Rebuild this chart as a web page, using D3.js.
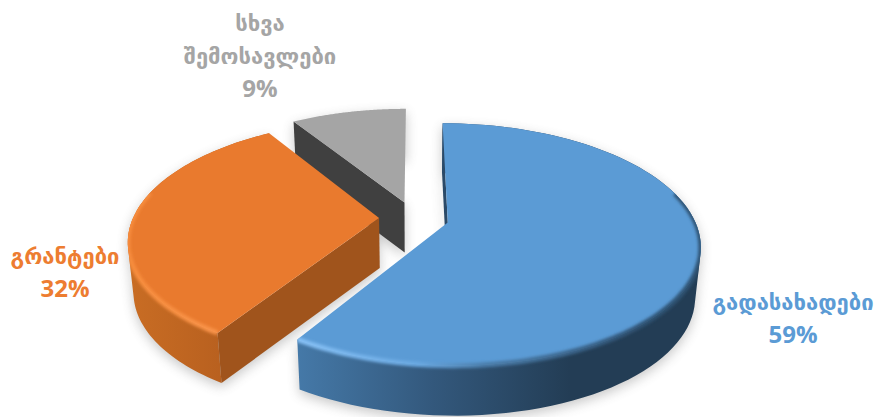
<!DOCTYPE html>
<html lang="ka">
<head>
<meta charset="UTF-8" />
<title>შემოსავლები</title>
<style>
  html, body { margin: 0; padding: 0; background: #fff; overflow: hidden; }
  text { font-family: "DejaVu Sans", sans-serif; text-anchor: middle; }
  .pct { font-family: "Open Sans", sans-serif; font-weight: 700; font-size: 24px; }
  .name { font-size: 22px; font-weight: 700; }
</style>
</head>
<body>
<svg id="chart" width="877" height="417"></svg>
<script src="https://cdn.jsdelivr.net/npm/d3@7"></script>
<script>
// data
var categories = ["გადასახადები", "გრანტები", "სხვა შემოსავლები"];
var values = [59, 32, 9];

// colours per slice, same order as the data
var faceColors = ["#5b9bd5", "#e97a2e", "#a5a5a5"];
var cutColors = ["#2b4a68", "#a0541c", "#404040"];
var labelColors = ["#5b9bd5", "#ed7d31", "#a5a5a5"];

// the tilted plate: perspective circle seen from above
var cx = 414, cy = 218;
var radiusX = 246, radiusY = 115.6, persp = 0.179, depth = 50, explode = 0.142;
var lowerShrink = 0.98; // verticals lean inward going down

// label places
var labelX = [793, 65, 260];
var labelY = [310, 264, 31];
var lineGap = 33;

var svg = d3.select("#chart");
var defs = svg.append("defs");

var blur = defs.append("filter").attr("id", "shadowBlur")
  .attr("x", "-20%").attr("y", "-20%").attr("width", "140%").attr("height", "140%");
blur.append("feGaussianBlur").attr("stdDeviation", 6);
var soft = defs.append("filter").attr("id", "rimBlur")
  .attr("x", "-10%").attr("y", "-10%").attr("width", "120%").attr("height", "120%");
soft.append("feGaussianBlur").attr("stdDeviation", 1.8);

function linear(id, x1, x2, stops) {
  var g = defs.append("linearGradient").attr("id", id)
    .attr("gradientUnits", "userSpaceOnUse")
    .attr("x1", x1).attr("x2", x2).attr("y1", 0).attr("y2", 0);
  stops.forEach(function(s) {
    g.append("stop").attr("offset", s[0]).attr("stop-color", s[1]);
  });
  return "url(#" + id + ")";
}

var wallFill = [
  linear("wallBlue", 297, 570, [[0, "#4579a8"], [0.5, "#33587c"], [1, "#233d55"]]),
  linear("wallOrange", 126, 225, [[0, "#c96d24"], [1, "#b8601f"]])
];
var rimStroke = [
  linear("rimBlue", 297, 640, [[0, "#86c0f5"], [0.35, "#6aa9e2"], [0.55, "#4a7ca9"], [1, "#2f5273"]]),
  linear("rimOrange", 126, 225, [[0, "#f78c3c"], [1, "#f9944a"]])
];

var pie = d3.pie().sort(null).value(function(d) { return d; });
var arcs = pie(values);
var line = d3.line();
var steps = 90;

// model coords to screen; lower=true drops the point to the bottom of the plate
function project(x, y, lower) {
  var k = 1 / (1 - persp * y);
  var sx = radiusX * x * k;
  return lower ? [cx + sx * lowerShrink, cy + radiusY * y * k + depth]
               : [cx + sx, cy + radiusY * y * k];
}

function apex(d, lower) {
  var m = (d.startAngle + d.endAngle) / 2;
  return project(explode * Math.sin(m), -explode * Math.cos(m), lower);
}

function rimPoint(d, angle, lower) {
  var m = (d.startAngle + d.endAngle) / 2;
  return project(explode * Math.sin(m) + Math.sin(angle), -explode * Math.cos(m) - Math.cos(angle), lower);
}

function rim(d, from, to, lower) {
  var t = d3.scaleLinear().domain([0, steps]).range([from, to]);
  return d3.range(steps + 1).map(function(i) { return rimPoint(d, t(i), lower); });
}

function facePath(d) { return line([apex(d)].concat(rim(d, d.startAngle, d.endAngle))) + "Z"; }

// outer wall as one path of small quads, so the sides stay tangent to both rims
function wallPath(d) {
  var top = rim(d, d.startAngle, d.endAngle);
  var bottom = rim(d, d.startAngle, d.endAngle, true);
  return d3.range(steps).map(function(i) {
    var q = [top[i], top[i + 1], bottom[i + 1], bottom[i]];
    // keep the same winding for every quad
    if (d3.polygonArea(q) < 0) q.reverse();
    return line(q) + "Z";
  }).join("");
}

function cutPath(d) {
  return line([apex(d), rimPoint(d, d.startAngle), rimPoint(d, d.startAngle, true), apex(d, true)]) + "Z";
}
function rad(deg) { return deg * Math.PI / 180; }

// soft shadow below every slice
var shadow = svg.append("g").attr("filter", "url(#shadowBlur)")
  .attr("opacity", 0.32).attr("transform", "translate(0,4)");
arcs.forEach(function(d) {
  shadow.append("path").attr("d", wallPath(d)).attr("fill", "#555");
  shadow.append("path").attr("d", cutPath(d)).attr("fill", "#555");
});

// far slice first so the near ones paint over it
[2, 1, 0].forEach(function(i) {
  var d = arcs[i];
  var g = svg.append("g");
  // the far slice shows no outer wall
  if (i < 2) g.append("path").attr("d", wallPath(d)).attr("fill", wallFill[i]);
  g.append("path").attr("d", cutPath(d)).attr("fill", cutColors[i]);
  g.append("path").attr("d", facePath(d)).attr("fill", faceColors[i]);
  if (i < 2) {
    // bevel along the front edge, kept inside the slice
    var clip = defs.append("clipPath").attr("id", "clip" + i);
    clip.append("path").attr("d", facePath(d));
    clip.append("path").attr("d", wallPath(d));
    var from = i === 0 ? rad(75) : d.startAngle;
    var to = i === 0 ? d.endAngle : rad(283);
    g.append("g").attr("clip-path", "url(#clip" + i + ")")
      .append("path").attr("d", line(rim(d, from, to)))
      .attr("fill", "none").attr("stroke", rimStroke[i])
      .attr("stroke-width", 5).attr("filter", "url(#rimBlur)");
  }
});

// labels
categories.forEach(function(name, i) {
  var parts = name.split(" ");
  var t = svg.append("g").attr("fill", labelColors[i]);
  parts.forEach(function(p, j) {
    t.append("text").attr("class", "name")
      .attr("x", labelX[i]).attr("y", labelY[i] + j * lineGap).text(p);
  });
  t.append("text").attr("class", "pct")
    .attr("x", labelX[i]).attr("y", labelY[i] + parts.length * lineGap).text(values[i] + "%");
});
</script>
</body>
</html>
